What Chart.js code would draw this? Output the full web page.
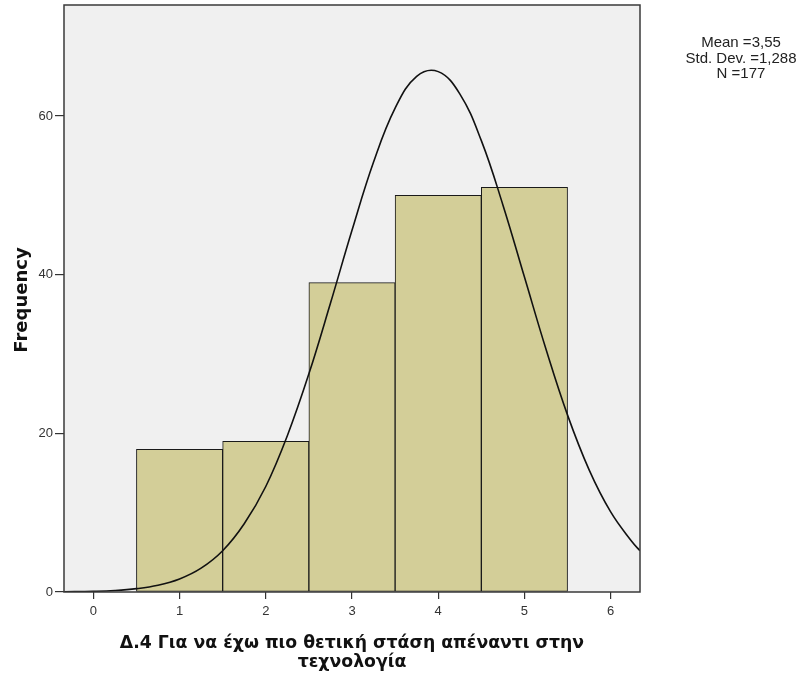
<!DOCTYPE html>
<html>
<head>
<meta charset="utf-8">
<script src="https://cdn.jsdelivr.net/npm/chart.js@4.4.1/dist/chart.umd.min.js"></script>
<style>
  html, body { margin: 0; padding: 0; background: #ffffff; }
  #wrap { width: 801px; height: 678px; }
</style>
</head>
<body>
<div id="wrap"><canvas id="hist" width="801" height="678"></canvas></div>
<script>
// Histogram bins: centre of each response value and its count
const binCenters = [1, 2, 3, 4, 5];
const frequencies = [18, 19, 39, 50, 51];

// Fitted normal curve, sampled along the x axis
const curveX = [-0.34, 0, 0.25, 0.5, 0.75, 1, 1.25, 1.5, 1.75, 2, 2.25, 2.5, 2.75, 3, 3.25, 3.5, 3.75, 4, 4.25, 4.5, 4.75, 5, 5.25, 5.5, 5.75, 6, 6.25, 6.34];
const curveY = [0.03, 0.09, 0.19, 0.42, 0.85, 1.64, 3.0, 5.2, 8.6, 13.3, 19.7, 27.5, 36.4, 45.6, 54.2, 61.0, 65.0, 65.6, 62.8, 56.9, 48.8, 39.7, 30.6, 22.3, 15.4, 10.1, 6.3, 5.2];

// Axis ticks
const xTicks = [0, 1, 2, 3, 4, 5, 6];
const yTicks = [0, 20, 40, 60];

// Summary statistics
const statLines = ['Mean =3,55', 'Std. Dev. =1,288', 'N =177'];

const xTitleLines = ['Δ.4 Για να έχω πιο θετική στάση απέναντι στην', 'τεχνολογία'];
const yTitle = 'Frequency';

const plotFrame = {
  id: 'plotFrame',
  beforeDatasetsDraw(chart) {
    const { ctx, chartArea: a } = chart;
    ctx.save();
    ctx.fillStyle = '#f0f0f0';
    ctx.fillRect(a.left, a.top, a.right - a.left, a.bottom - a.top);
    ctx.restore();
  },
  afterDatasetsDraw(chart) {
    const { ctx, chartArea: a } = chart;
    ctx.save();
    ctx.strokeStyle = '#3a3a3a';
    ctx.lineWidth = 1.5;
    ctx.strokeRect(a.left, a.top, a.right - a.left, a.bottom - a.top);
    ctx.restore();
  },
  afterDraw(chart) {
    const { ctx, chartArea: a } = chart;
    ctx.save();
    // statistics block
    ctx.fillStyle = '#222';
    ctx.font = '15px "Liberation Sans", Arial, sans-serif';
    ctx.textAlign = 'center';
    ctx.textBaseline = 'alphabetic';
    statLines.forEach((t, i) => ctx.fillText(t, 741, 47 + i * 15.5));

    // x axis title
    ctx.fillStyle = '#111';
    ctx.font = 'bold 17.3px "DejaVu Sans", sans-serif';
    const cx = (a.left + a.right) / 2;
    ctx.fillText(xTitleLines[0], cx, 648);
    ctx.fillText(xTitleLines[1], cx, 667);

    // y axis title
    ctx.font = 'bold 18px "DejaVu Sans", sans-serif';
    ctx.translate(27, 300);
    ctx.rotate(-Math.PI / 2);
    ctx.fillText(yTitle, 0, 0);
    ctx.restore();
  }
};

const tickFont = { family: '"Liberation Sans", Arial, sans-serif', size: 13 };

new Chart(document.getElementById('hist'), {
  type: 'bar',
  data: {
    datasets: [
      {
        type: 'line',
        data: curveX.map((x, i) => ({ x, y: curveY[i] })),
        borderColor: '#111111',
        borderWidth: 1.6,
        pointRadius: 0,
        tension: 0.4,
        fill: false,
        order: 0
      },
      {
        type: 'bar',
        data: binCenters.map((x, i) => ({ x, y: frequencies[i] })),
        backgroundColor: '#d3ce98',
        borderColor: '#1a1a1a',
        borderWidth: 1,
        borderSkipped: false,
        barPercentage: 1,
        categoryPercentage: 1,
        grouped: false,
        order: 1
      }
    ]
  },
  options: {
    responsive: false,
    animation: false,
    events: [],
    layout: { padding: { left: 0, top: 5, right: 161, bottom: 0 } },
    plugins: { legend: { display: false }, tooltip: { enabled: false } },
    scales: {
      x: {
        type: 'linear',
        offset: false,
        min: -0.34,
        max: 6.34,
        afterBuildTicks: s => { s.ticks = xTicks.map(v => ({ value: v })); },
        afterFit: s => { s.height = 86; s.paddingLeft = 0; s.paddingRight = 0; },
        grid: { offset: false, drawOnChartArea: false, drawTicks: true, tickLength: 7, color: '#333', lineWidth: 1.2 },
        border: { display: false },
        ticks: { font: tickFont, color: '#333', padding: 5, maxRotation: 0 }
      },
      y: {
        type: 'linear',
        min: 0,
        max: 74,
        afterBuildTicks: s => { s.ticks = yTicks.map(v => ({ value: v })); },
        afterFit: s => { s.width = 64; s.paddingTop = 0; s.paddingBottom = 0; },
        grid: { drawOnChartArea: false, drawTicks: true, tickLength: 9, color: '#333', lineWidth: 1.2 },
        border: { display: false },
        ticks: { font: tickFont, color: '#333', padding: 2 }
      }
    }
  },
  plugins: [plotFrame]
});
</script>
</body>
</html>
